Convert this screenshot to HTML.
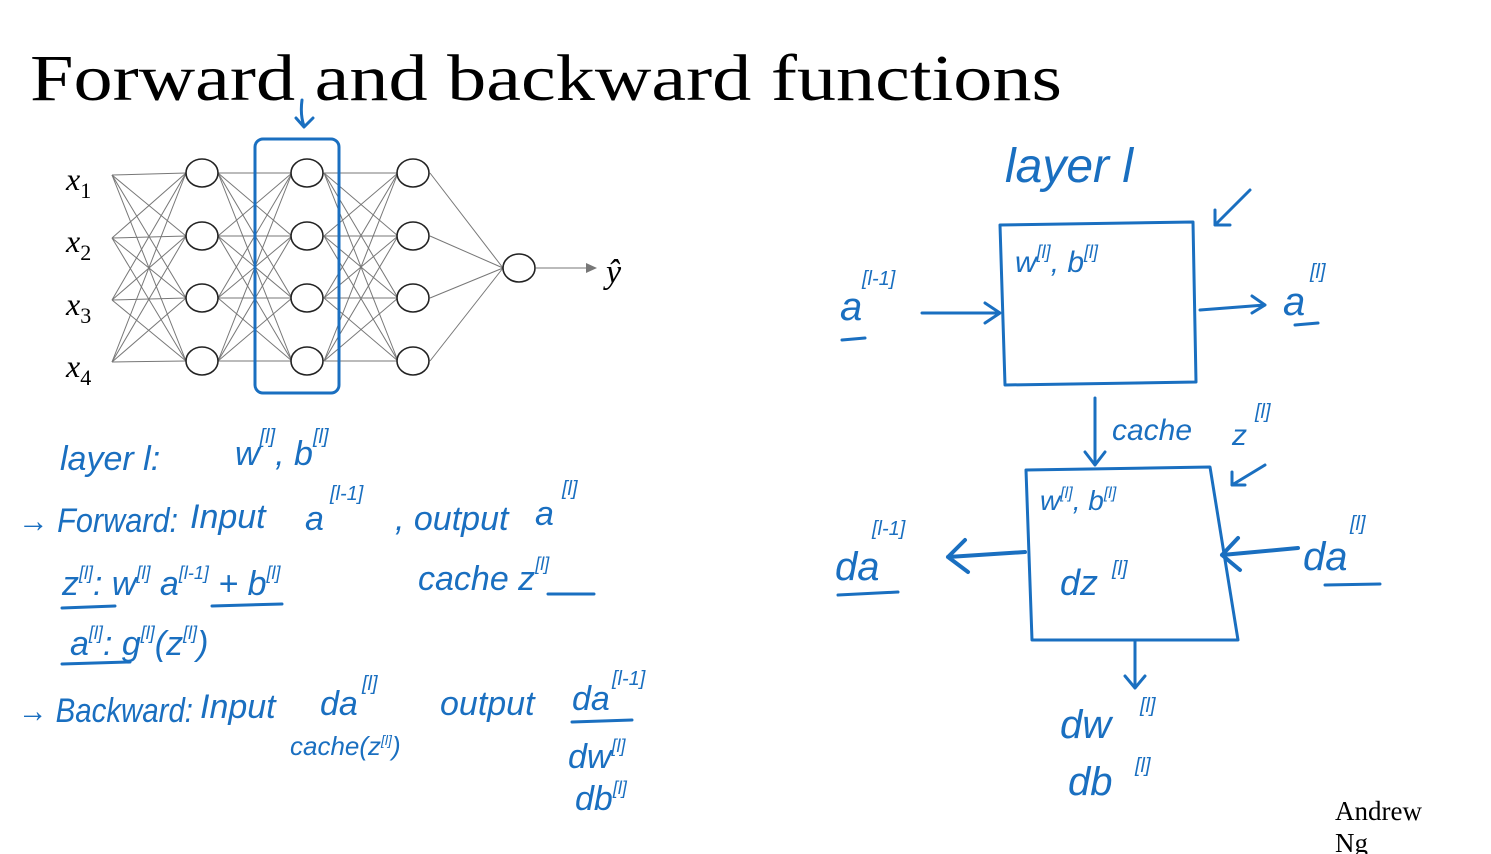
<!DOCTYPE html>
<html><head><meta charset="utf-8"><style>
html,body{margin:0;padding:0;background:#fff;}
svg{display:block}
.h{font-family:"Liberation Sans",sans-serif;font-style:italic;fill:#1a6fc0;}
.b{stroke:#1a6fc0;fill:none;stroke-width:3;stroke-linecap:round;stroke-linejoin:round}
.g{stroke:#777;stroke-width:1;}
.n{fill:#fff;stroke:#222;stroke-width:1.6}
</style></head><body>
<svg width="1491" height="854" viewBox="0 0 1491 854" xmlns="http://www.w3.org/2000/svg">
<text x="30" y="100" font-family="Liberation Serif" font-size="66" textLength="1032" lengthAdjust="spacingAndGlyphs">Forward and backward functions</text>

<g class="g">
<g>
<line x1="112" y1="175" x2="186" y2="173"/><line x1="112" y1="175" x2="186" y2="236"/><line x1="112" y1="175" x2="186" y2="298"/><line x1="112" y1="175" x2="186" y2="361"/>
<line x1="112" y1="238" x2="186" y2="173"/><line x1="112" y1="238" x2="186" y2="236"/><line x1="112" y1="238" x2="186" y2="298"/><line x1="112" y1="238" x2="186" y2="361"/>
<line x1="112" y1="300" x2="186" y2="173"/><line x1="112" y1="300" x2="186" y2="236"/><line x1="112" y1="300" x2="186" y2="298"/><line x1="112" y1="300" x2="186" y2="361"/>
<line x1="112" y1="362" x2="186" y2="173"/><line x1="112" y1="362" x2="186" y2="236"/><line x1="112" y1="362" x2="186" y2="298"/><line x1="112" y1="362" x2="186" y2="361"/>
</g>
<g transform="translate(106,0)">
<line x1="112" y1="173" x2="186" y2="173"/><line x1="112" y1="173" x2="186" y2="236"/><line x1="112" y1="173" x2="186" y2="298"/><line x1="112" y1="173" x2="186" y2="361"/>
<line x1="112" y1="236" x2="186" y2="173"/><line x1="112" y1="236" x2="186" y2="236"/><line x1="112" y1="236" x2="186" y2="298"/><line x1="112" y1="236" x2="186" y2="361"/>
<line x1="112" y1="298" x2="186" y2="173"/><line x1="112" y1="298" x2="186" y2="236"/><line x1="112" y1="298" x2="186" y2="298"/><line x1="112" y1="298" x2="186" y2="361"/>
<line x1="112" y1="361" x2="186" y2="173"/><line x1="112" y1="361" x2="186" y2="236"/><line x1="112" y1="361" x2="186" y2="298"/><line x1="112" y1="361" x2="186" y2="361"/>
</g>
<g transform="translate(212,0)">
<line x1="112" y1="173" x2="186" y2="173"/><line x1="112" y1="173" x2="186" y2="236"/><line x1="112" y1="173" x2="186" y2="298"/><line x1="112" y1="173" x2="186" y2="361"/>
<line x1="112" y1="236" x2="186" y2="173"/><line x1="112" y1="236" x2="186" y2="236"/><line x1="112" y1="236" x2="186" y2="298"/><line x1="112" y1="236" x2="186" y2="361"/>
<line x1="112" y1="298" x2="186" y2="173"/><line x1="112" y1="298" x2="186" y2="236"/><line x1="112" y1="298" x2="186" y2="298"/><line x1="112" y1="298" x2="186" y2="361"/>
<line x1="112" y1="361" x2="186" y2="173"/><line x1="112" y1="361" x2="186" y2="236"/><line x1="112" y1="361" x2="186" y2="298"/><line x1="112" y1="361" x2="186" y2="361"/>
</g>
<line x1="430" y1="173" x2="503" y2="268"/><line x1="430" y1="236" x2="503" y2="268"/><line x1="430" y1="298" x2="503" y2="268"/><line x1="430" y1="361" x2="503" y2="268"/>
<line x1="536" y1="268" x2="592" y2="268"/>
</g>
<polygon points="597,268 586,263 586,273" fill="#777"/>
<g class="n">
<ellipse cx="202" cy="173" rx="16" ry="14"/><ellipse cx="202" cy="236" rx="16" ry="14"/><ellipse cx="202" cy="298" rx="16" ry="14"/><ellipse cx="202" cy="361" rx="16" ry="14"/>
<ellipse cx="307" cy="173" rx="16" ry="14"/><ellipse cx="307" cy="236" rx="16" ry="14"/><ellipse cx="307" cy="298" rx="16" ry="14"/><ellipse cx="307" cy="361" rx="16" ry="14"/>
<ellipse cx="413" cy="173" rx="16" ry="14"/><ellipse cx="413" cy="236" rx="16" ry="14"/><ellipse cx="413" cy="298" rx="16" ry="14"/><ellipse cx="413" cy="361" rx="16" ry="14"/>
<ellipse cx="519" cy="268" rx="16" ry="14"/>
</g>
<g font-family="Liberation Serif" font-style="italic" font-size="32">
<text x="66" y="190">x<tspan font-size="22" font-style="normal" dy="8">1</tspan></text>
<text x="66" y="252">x<tspan font-size="22" font-style="normal" dy="8">2</tspan></text>
<text x="66" y="315">x<tspan font-size="22" font-style="normal" dy="8">3</tspan></text>
<text x="66" y="377">x<tspan font-size="22" font-style="normal" dy="8">4</tspan></text>
<text x="606" y="283" font-size="34">ŷ</text>
</g>
<rect x="255" y="139" width="84" height="254" rx="8" class="b"/>
<path class="b" d="M302 100 Q300 115 304 126 M296 118 L304 127 L313 118"/>

<g class="h" font-size="34">
<text x="60" y="470">layer  l:</text>
<text x="235" y="465">w<tspan font-size="20" dy="-22">[l]</tspan><tspan dy="22">, b</tspan><tspan font-size="20" dy="-22">[l]</tspan></text>
<text x="18" y="532" textLength="160" lengthAdjust="spacingAndGlyphs">→ Forward:</text>
<text x="190" y="528">Input</text>
<text x="305" y="530">a</text><text x="330" y="500" font-size="20">[l-1]</text>
<text x="395" y="530">, output</text>
<text x="535" y="525">a</text><text x="562" y="495" font-size="20">[l]</text>
<text x="62" y="595">z<tspan font-size="18" dy="-16">[l]</tspan><tspan dy="16">: w</tspan><tspan font-size="18" dy="-16">[l]</tspan><tspan dy="16"> a</tspan><tspan font-size="18" dy="-16">[l-1]</tspan><tspan dy="16"> + b</tspan><tspan font-size="18" dy="-16">[l]</tspan></text>
<text x="418" y="590">cache  z<tspan font-size="18" dy="-20">[l]</tspan></text>
<text x="70" y="655">a<tspan font-size="18" dy="-16">[l]</tspan><tspan dy="16">: g</tspan><tspan font-size="18" dy="-16">[l]</tspan><tspan dy="16">(z</tspan><tspan font-size="18" dy="-16">[l]</tspan><tspan dy="16">)</tspan></text>
<text x="18" y="722" textLength="175" lengthAdjust="spacingAndGlyphs">→ Backward:</text>
<text x="200" y="718">Input</text>
<text x="320" y="715">da</text><text x="362" y="690" font-size="20">[l]</text>
<text x="440" y="715">output</text>
<text x="572" y="710">da</text><text x="612" y="685" font-size="20">[l-1]</text>
<text x="290" y="755" font-size="26">cache(z<tspan font-size="14" dy="-10">[l]</tspan><tspan dy="10">)</tspan></text>
<text x="568" y="768">dw<tspan font-size="18" dy="-16">[l]</tspan></text>
<text x="575" y="810">db<tspan font-size="18" dy="-16">[l]</tspan></text>
</g>
<path class="b" d="M62 608 L115 606 M62 664 L130 662 M212 606 L282 604 M548 594 L594 594 M572 722 L632 720"/>

<g class="h" font-size="40">
<text x="1005" y="182" font-size="48">layer  l</text>
<text x="840" y="320">a</text><text x="862" y="285" font-size="20">[l-1]</text>
<text x="1283" y="315">a</text><text x="1310" y="278" font-size="20">[l]</text>
<text x="1015" y="272" font-size="30">w<tspan font-size="18" dy="-14">[l]</tspan><tspan dy="14">, b</tspan><tspan font-size="18" dy="-14">[l]</tspan></text>
<text x="1112" y="440" font-size="30">cache</text>
<text x="1232" y="445" font-size="30">z</text><text x="1255" y="418" font-size="20">[l]</text>
<text x="1040" y="510" font-size="28">w<tspan font-size="16" dy="-12">[l]</tspan><tspan dy="12">, b</tspan><tspan font-size="16" dy="-12">[l]</tspan></text>
<text x="1060" y="595" font-size="36">dz</text><text x="1112" y="575" font-size="20">[l]</text>
<text x="835" y="580">da</text><text x="872" y="535" font-size="20">[l-1]</text>
<text x="1303" y="570">da</text><text x="1350" y="530" font-size="20">[l]</text>
<text x="1060" y="738">dw</text><text x="1140" y="712" font-size="20">[l]</text>
<text x="1068" y="795">db</text><text x="1135" y="772" font-size="20">[l]</text>
</g>
<g class="b">
<path d="M1000 225 L1193 222 L1196 382 L1005 385 Z"/>
<path d="M1026 470 L1210 467 L1238 640 L1032 640 Z"/>
<path d="M922 313 L1000 313 M985 303 L1000 313 L985 323"/>
<path d="M1200 310 L1265 305 M1252 296 L1265 305 L1252 313"/>
<path d="M1250 190 L1215 225 M1215 210 L1215 225 L1230 225"/>
<path d="M1265 465 L1232 485 M1232 472 L1232 485 L1245 485"/>
<path d="M1095 398 L1095 465 M1085 452 L1095 465 L1105 452"/>
<path d="M1135 640 L1135 688 M1125 676 L1135 688 L1145 676"/>
<path d="M1025 552 L948 557 M965 540 L948 557 L968 572" stroke-width="4"/>
<path d="M1298 548 L1222 555 M1238 538 L1222 555 L1240 570" stroke-width="4"/>
<path d="M842 340 L865 338 M1295 325 L1318 323 M838 595 L898 592 M1325 585 L1380 584"/>
</g>
<text x="1335" y="820" font-family="Liberation Serif" font-size="27">Andrew</text>
<text x="1335" y="852" font-family="Liberation Serif" font-size="27">Ng</text>
</svg>
</body></html>
